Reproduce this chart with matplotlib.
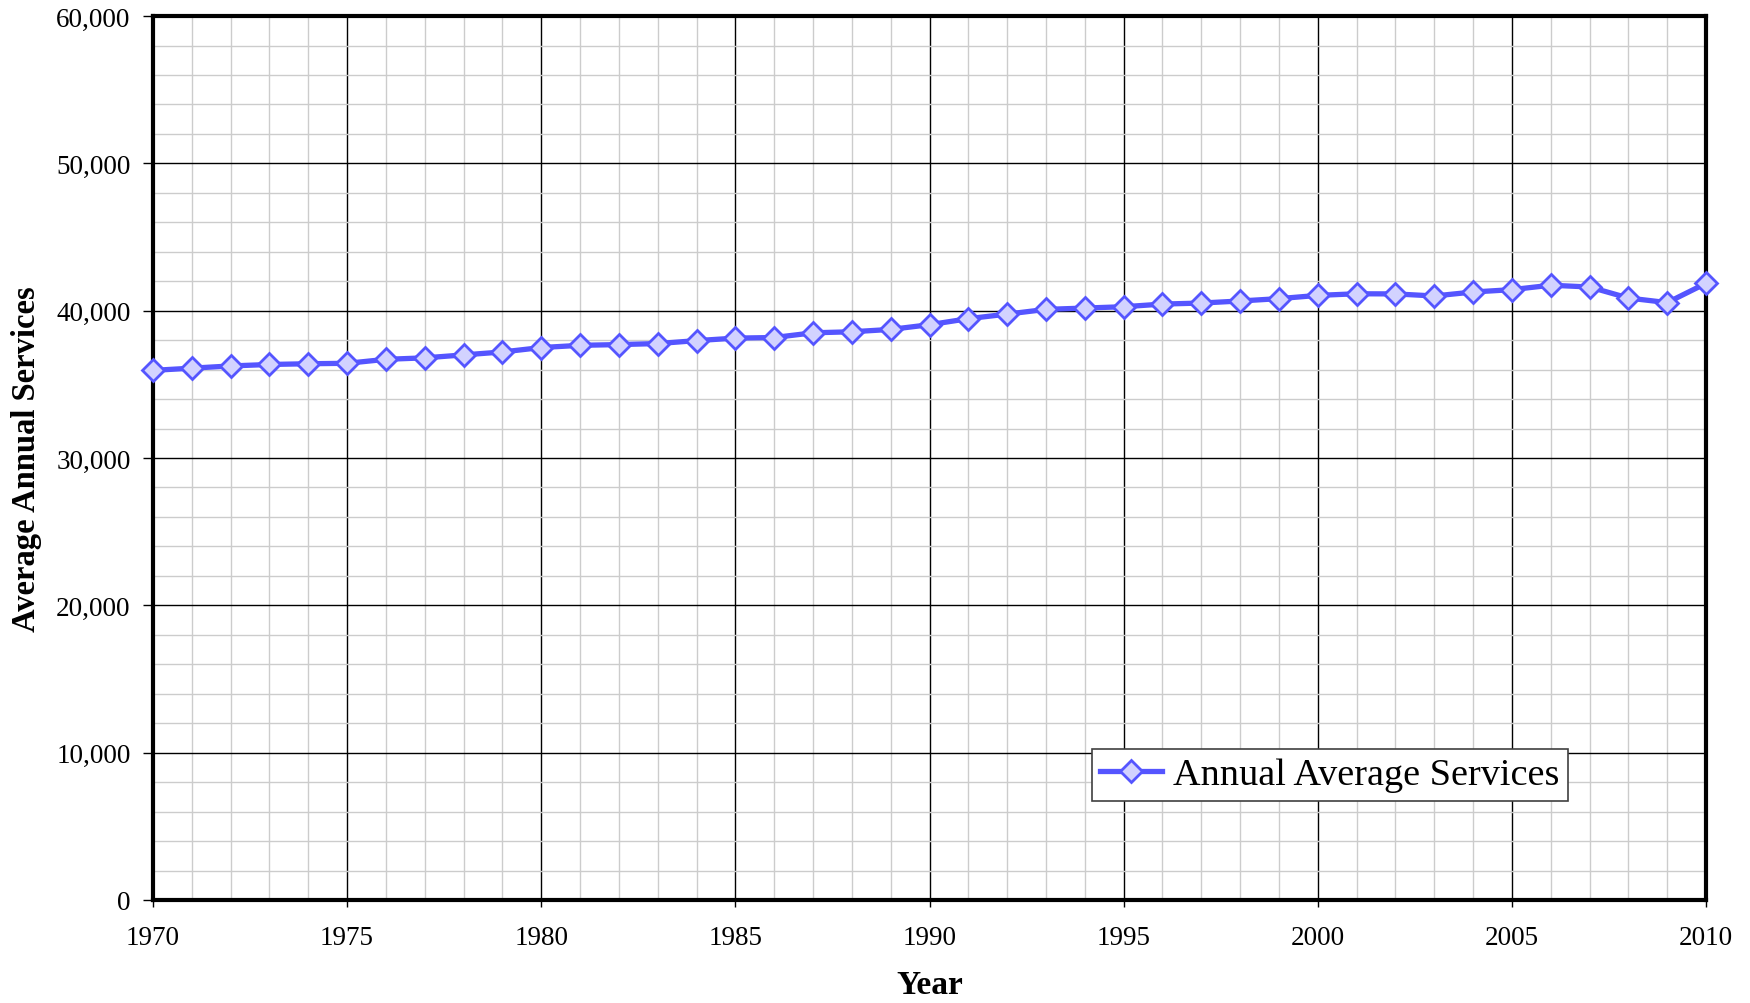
import numpy as np
import matplotlib
matplotlib.use('Agg')
import matplotlib.pyplot as plt
from matplotlib.ticker import MultipleLocator, FuncFormatter

# Data
years = list(range(1970, 2011))
services = [35950, 36100, 36250, 36350, 36400, 36430, 36700, 36800, 37000, 37200,
            37500, 37650, 37700, 37770, 37970, 38140, 38180, 38500, 38570, 38730,
            39050, 39460, 39770, 40090, 40180, 40270, 40450, 40520, 40660, 40820,
            41040, 41150, 41140, 41000, 41270, 41430, 41730, 41610, 40860, 40550,
            41860]

series_label = 'Annual Average Services'
x_label = 'Year'
y_label = 'Average Annual Services'

plt.rcParams['font.family'] = ['Liberation Serif', 'DejaVu Serif']

fig = plt.figure(figsize=(17.5, 10.04), dpi=100)
ax = fig.add_axes([0.0874, 0.1026, 0.9749 - 0.0874, 0.983 - 0.1026])

line_color = '#5555ff'
ax.plot(years, services, color=line_color, lw=3.8, marker='D', markersize=11.5,
        markerfacecolor='#d2d2ff', markeredgecolor=line_color, markeredgewidth=2,
        label=series_label, zorder=5, clip_on=False)

ax.set_xlim(1970, 2010)
ax.set_ylim(0, 60000)
ax.xaxis.set_major_locator(MultipleLocator(5))
ax.xaxis.set_minor_locator(MultipleLocator(1))
ax.yaxis.set_major_locator(MultipleLocator(10000))
ax.yaxis.set_minor_locator(MultipleLocator(2000))
ax.yaxis.set_major_formatter(FuncFormatter(lambda v, p: f'{int(v):,}'))

ax.grid(True, which='minor', color='#cccccc', lw=1.0)
ax.grid(True, which='major', color='black', lw=1.0)
ax.set_axisbelow(True)

for s in ax.spines.values():
    s.set_linewidth(3)
    s.set_color('black')

ax.tick_params(axis='both', which='minor', length=0)
ax.tick_params(axis='y', which='major', length=7, width=1, pad=9, labelsize=19.5)
ax.tick_params(axis='x', which='major', length=5, width=1, pad=13, labelsize=19.5)

ax.set_xlabel(x_label, fontsize=24, fontweight='bold', labelpad=14)
ax.set_ylabel(y_label, fontsize=23.5, fontweight='bold', labelpad=10)

leg = ax.legend(loc='upper left', bbox_to_anchor=(1092 / 1750, 1 - 750 / 1004),
                bbox_transform=fig.transFigure, fontsize=27.5, frameon=True,
                fancybox=False, borderaxespad=0, handlelength=1.6,
                handletextpad=0.3, borderpad=0.22)
leg.get_frame().set_edgecolor('#404040')
leg.get_frame().set_linewidth(1.2)
leg.get_frame().set_alpha(1)

fig.savefig('out.png', dpi=100, facecolor='white')
